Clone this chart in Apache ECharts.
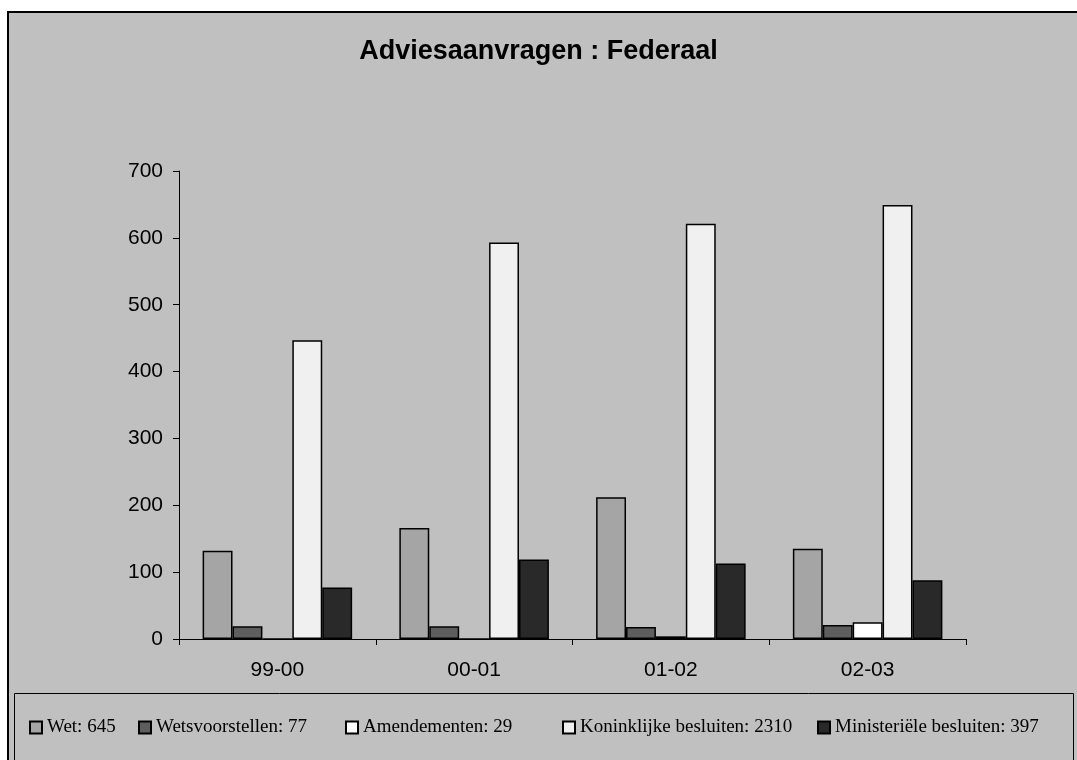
<!DOCTYPE html>
<html>
<head>
<meta charset="utf-8">
<script src="https://cdn.jsdelivr.net/npm/echarts@6/dist/echarts.min.js"></script>
<style>
  html, body { margin: 0; padding: 0; background: #fff; overflow: hidden; }
  #frame { position: absolute; left: 7px; top: 11px; width: 1100px; height: 800px;
           background: #c0c0c0; border-left: 2px solid #000; border-top: 2px solid #000; }
  #chart { position: absolute; left: 0; top: 0; width: 1077px; height: 760px; }
</style>
</head>
<body>
<div id="frame"></div>
<div id="chart"></div>
<script>
// jaren
const categories = ['99-00', '00-01', '01-02', '02-03']

// reeksen
const wet = [132, 166, 212, 135]
const wetsvoorstellen = [19, 19, 18, 21]
const amendementen = [0, 0, 4, 25]
const koninklijke = [447, 593, 621, 649]
const ministeriele = [77, 119, 113, 88]

const seriesNames = ['Wet', 'Wetsvoorstellen', 'Amendementen', 'Koninklijke besluiten', 'Ministeriële besluiten']
const seriesData = [wet, wetsvoorstellen, amendementen, koninklijke, ministeriele]
const seriesColors = ['#a5a5a5', '#5e5e5e', '#ffffff', '#f0f0f0', '#292929']
const legendLeft = [29, 138, 345, 562, 817]

const yTicks = [0, 100, 200, 300, 400, 500, 600, 700]

const totals = {}
seriesNames.forEach((n, i) => {
  totals[n] = seriesData[i].reduce((a, b) => a + b, 0)
})

const myChart = echarts.init(document.getElementById('chart'))

const option = {
  backgroundColor: 'transparent',
  animation: false,
  title: {
    text: 'Adviesaanvragen : Federaal',
    left: 'center',
    top: 38,
    padding: 0,
    textStyle: {
      fontFamily: 'Liberation Sans',
      fontSize: 27,
      fontWeight: 'bold',
      color: '#000'
    }
  },
  // legend frame
  graphic: [
    {
      type: 'rect',
      shape: { x: 14.5, y: 693.5, width: 1059, height: 100 },
      style: { fill: 'none', stroke: '#000', lineWidth: 1 },
      silent: true
    }
  ],
  legend: seriesNames.map((n, i) => ({
    data: [n],
    left: legendLeft[i],
    top: 718,
    padding: 0,
    itemWidth: 12,
    itemHeight: 12,
    icon: 'rect',
    formatter: name => name + ': ' + totals[name],
    textStyle: {
      fontFamily: 'Liberation Serif',
      fontSize: 19,
      color: '#000',
      padding: [2, 0, 0, 0]
    }
  })),
  grid: {
    left: 179,
    right: 111,
    top: 171,
    bottom: 121,
    containLabel: false
  },
  xAxis: {
    type: 'category',
    data: categories,
    axisLine: { lineStyle: { color: '#000', width: 1 } },
    axisTick: { show: true, length: 6, lineStyle: { color: '#000' } },
    axisLabel: {
      margin: 21,
      fontFamily: 'Liberation Sans',
      fontSize: 21,
      color: '#000'
    },
    splitLine: { show: false }
  },
  yAxis: {
    type: 'value',
    min: yTicks[0],
    max: yTicks[yTicks.length - 1],
    interval: 100,
    axisLine: { show: true, lineStyle: { color: '#000', width: 1 } },
    axisTick: { show: true, length: 6, lineStyle: { color: '#000' } },
    axisLabel: {
      margin: 16,
      fontFamily: 'Liberation Sans',
      fontSize: 21,
      color: '#000'
    },
    splitLine: { show: false }
  },
  series: seriesNames.map((n, i) => ({
    name: n,
    type: 'bar',
    data: seriesData[i],
    barGap: '0%',
    barCategoryGap: '24%',
    itemStyle: {
      color: seriesColors[i],
      borderColor: '#000',
      borderWidth: 1.5
    }
  }))
}

myChart.setOption(option)
</script>
</body>
</html>
